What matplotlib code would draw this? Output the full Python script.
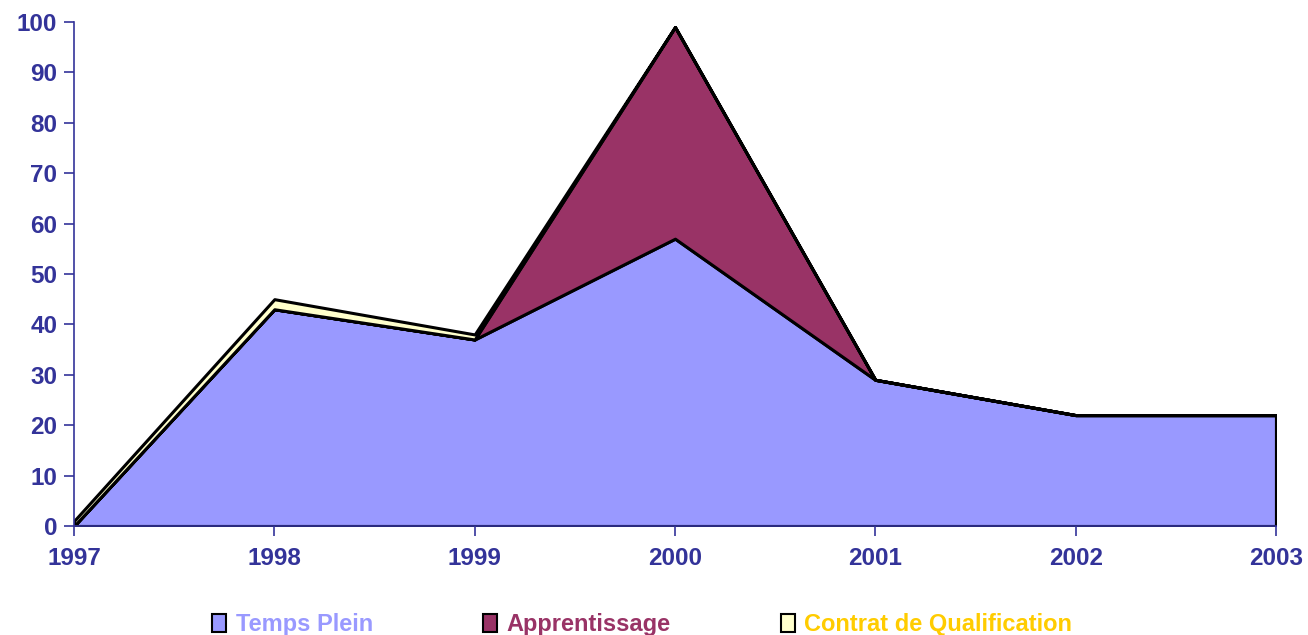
import numpy as np
import matplotlib.pyplot as plt
from matplotlib.patches import Patch

years = [1997, 1998, 1999, 2000, 2001, 2002, 2003]
temps_plein = [0, 43, 37, 57, 29, 22, 22]
apprentissage = [0, 0, 0, 42, 0, 0, 0]
contrat = [1, 2, 1, 0, 0, 0, 0]

labels = ['Temps Plein', 'Apprentissage', 'Contrat de Qualification']
colors = ['#9999FF', '#993366', '#FFFFCC']
text_colors = ['#9999FF', '#993366', '#FFCC00']
axis_col = '#333399'

plt.rcParams['font.family'] = ['Liberation Sans', 'DejaVu Sans']

fig = plt.figure(figsize=(13.08, 6.35), dpi=100)
ax = fig.add_axes([0.0566, 0.1717, 0.9189, 0.7937])

ax.stackplot(years, temps_plein, apprentissage, contrat, colors=colors,
             edgecolor='black', linewidth=2.2)

ax.set_xlim(1997, 2003)
ax.set_ylim(0, 100)
ax.set_xticks(years)
ax.set_yticks(np.arange(0, 101, 10))
for s in ['top', 'right']:
    ax.spines[s].set_visible(False)
for s in ['left', 'bottom']:
    ax.spines[s].set_color(axis_col)
    ax.spines[s].set_linewidth(1.2)
ax.tick_params(colors=axis_col, labelsize=17.5, length=7, width=1.2,
               direction='out')
ax.tick_params(axis='x', pad=8)
ax.tick_params(axis='y', pad=5)
for t in ax.get_xticklabels() + ax.get_yticklabels():
    t.set_fontweight('bold')

handles = [Patch(facecolor=c, edgecolor='black', linewidth=1.5) for c in colors]
leg = fig.legend(handles, labels, loc='lower center', bbox_to_anchor=(0.491, -0.035),
                 ncol=3, frameon=False, handlelength=0.6, handleheight=0.8,
                 handletextpad=0.4, columnspacing=4.65,
                 prop={'size': 17, 'weight': 'bold'})
for t, c in zip(leg.get_texts(), text_colors):
    t.set_color(c)

plt.savefig('out.png', dpi=100)
